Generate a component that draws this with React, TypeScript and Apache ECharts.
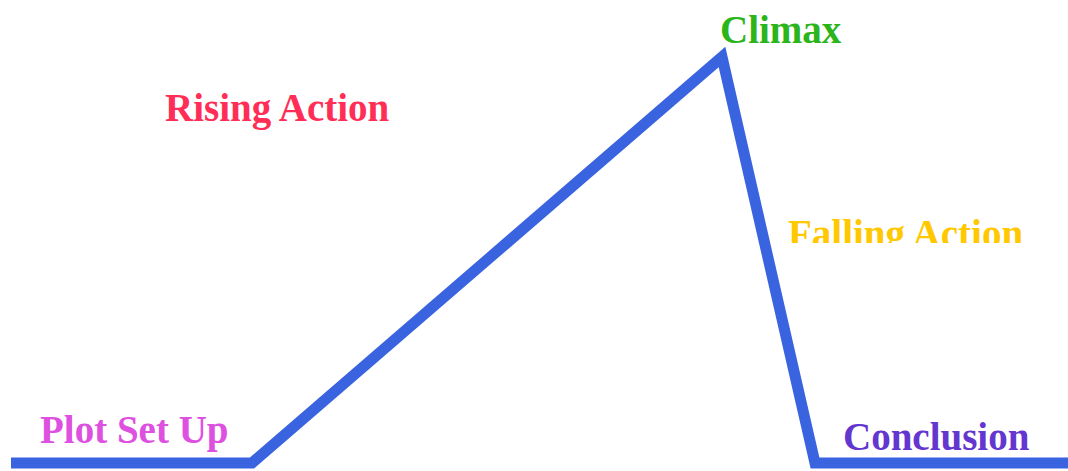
import React, { useEffect, useRef } from "react";
import * as echarts from "echarts";

// Plot diagram path (x in px-like units across 0..1068, y in 0..471 from top)
const plotX = [11, 252, 722, 815, 1068];
const plotY = [463, 463, 57, 463, 463];

const labels = ["Plot Set Up", "Rising Action", "Climax", "Falling Action", "Conclusion"];
const labelX = [40, 165, 720, 788, 843];
const labelY = [410, 88, 10, 214, 417];
const labelColors = ["#dd50e0", "#ff2e57", "#2bb51a", "#ffc800", "#6336cf"];

export default function App() {
  const ref = useRef<HTMLDivElement>(null);
  useEffect(() => {
    if (!ref.current) return;
    const chart = echarts.init(ref.current, undefined, { renderer: "svg" });
    const data = plotX.map((x, i) => [x, plotY[i]]);
    chart.setOption({
      animation: false,
      backgroundColor: "#ffffff",
      grid: { left: 0, right: 0, top: 0, bottom: 0 },
      xAxis: { type: "value", min: 0, max: 1068, show: false },
      yAxis: { type: "value", min: 0, max: 471, inverse: true, show: false },
      series: [
        {
          type: "line",
          data,
          symbol: "none",
          clip: false,
          lineStyle: { color: "#3a63e0", width: 11, join: "miter", cap: "butt" },
        },
      ],
      graphic: [
        ...labels.map((t, i) => ({
          type: "text",
          x: labelX[i],
          y: labelY[i],
          style: {
            text: t,
            fill: labelColors[i],
            font: 'bold 39px "Liberation Serif", "DejaVu Serif", serif',
          },
        })),
        {
          type: "rect",
          shape: { x: 780, y: 243, width: 260, height: 24 },
          style: { fill: "#ffffff" },
        },
      ],
    });
    return () => chart.dispose();
  }, []);
  return (
    <div
      ref={ref}
      style={{ position: "fixed", left: 0, top: 0, width: 1068, height: 471 }}
    />
  );
}
